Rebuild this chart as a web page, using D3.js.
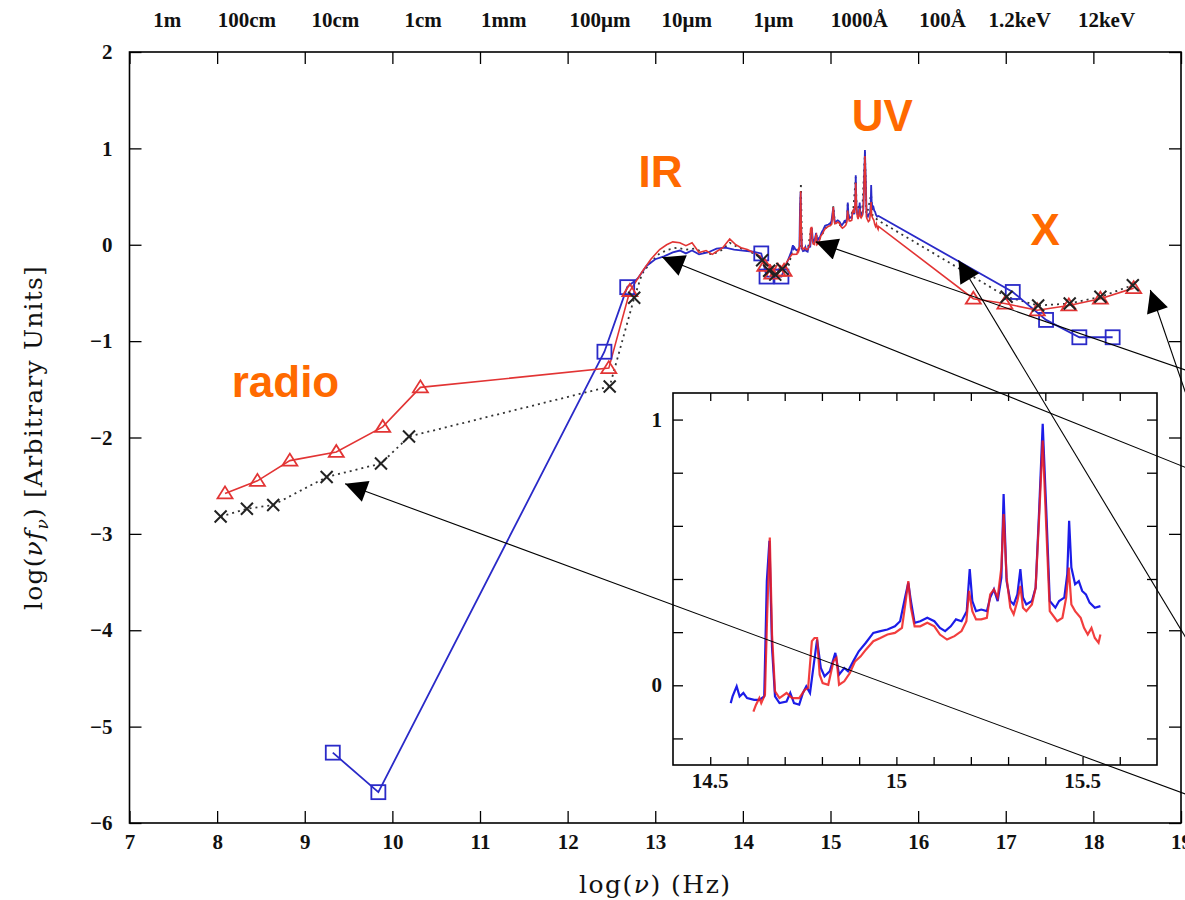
<!DOCTYPE html>
<html lang="en">
<head>
<meta charset="UTF-8" />
<title>SED</title>
<script src="https://cdn.jsdelivr.net/npm/d3@7/dist/d3.min.js"></script>
<style>
  body { margin: 0; background: #fff; }
  svg text { font-family: "Liberation Serif", "DejaVu Serif", serif; }
</style>
</head>
<body>
<script>
// ---- data: [log nu, log nu f_nu] ----
var xTicks = [7, 8, 9, 10, 11, 12, 13, 14, 15, 16, 17, 18, 19];
var yTicks = [-6, -5, -4, -3, -2, -1, 0, 1, 2];

var topLabels = ["1m", "100cm", "10cm", "1cm", "1mm", "100\u03bcm", "10\u03bcm", "1\u03bcm", "1000\u00c5", "100\u00c5", "1.2keV", "12keV"];
var topLabelPos = [7.43, 8.34, 9.35, 10.35, 11.27, 12.37, 13.36, 14.35, 15.33, 16.28, 17.16, 18.15];

// photometric points (markers)
var redPts = [[8.09,-2.58],[8.46,-2.45],[8.83,-2.24],[9.36,-2.15],[9.89,-1.89],[10.32,-1.48],[12.47,-1.28],[12.71,-0.48],
              [14.25,-0.22],[14.33,-0.30],[14.40,-0.27],[14.47,-0.27],
              [16.63,-0.56],[16.99,-0.61],[17.36,-0.68],[17.72,-0.63],[18.08,-0.56],[18.46,-0.45]];
var blackPts = [[8.04,-2.82],[8.34,-2.74],[8.64,-2.70],[9.25,-2.41],[9.87,-2.27],[10.19,-1.99],[12.48,-1.47],[12.76,-0.55],
                [14.22,-0.16],[14.30,-0.27],[14.37,-0.31],[14.45,-0.25],
                [17.01,-0.54],[17.37,-0.63],[17.73,-0.61],[18.08,-0.54],[18.45,-0.42]];
var bluePts = [[9.32,-5.27],[9.84,-5.68],[12.42,-1.11],[12.68,-0.44],[14.21,-0.09],[14.27,-0.33],[14.44,-0.33],
               [17.08,-0.49],[17.46,-0.78],[17.84,-0.96],[18.22,-0.96]];

// IR / near-IR continuum
var redIR = [[12.85,-0.28],[12.95,-0.15],[13.05,-0.05],[13.13,0.00],[13.20,0.03],[13.28,0.02],[13.35,-0.01],[13.42,0.02],
             [13.50,-0.08],[13.58,-0.06],[13.65,-0.10],[13.70,-0.07],[13.77,-0.03],[13.85,0.06],[13.92,0.00],[13.98,-0.03],
             [14.05,-0.05],[14.12,-0.08],[14.20,-0.12],[14.28,-0.30],[14.31,-0.20],[14.37,-0.25],[14.43,-0.22],[14.50,-0.18],[14.56,-0.10]];
var blackIR = [[12.85,-0.30],[12.95,-0.18],[13.05,-0.09],[13.15,-0.05],[13.25,-0.03],[13.35,-0.05],[13.45,-0.04],[13.55,-0.08],
               [13.65,-0.10],[13.75,-0.06],[13.85,0.02],[13.95,-0.03],[14.05,-0.06],[14.15,-0.10],[14.34,-0.33],[14.50,-0.30],[14.56,-0.08]];
var blueIR = [[12.80,-0.35],[12.90,-0.22],[13.00,-0.15],[13.10,-0.12],[13.20,-0.08],[13.28,-0.06],[13.35,-0.09],[13.42,-0.06],
              [13.50,-0.10],[13.60,-0.08],[13.70,-0.04],[13.80,-0.03],[13.90,-0.05],[14.00,-0.06],[14.10,-0.07]];

// optical/UV spectrum (also shown in the inset)
var blueSpec = [[14.555,-0.067],[14.560,-0.042],[14.571,-0.004],[14.579,-0.042],[14.589,-0.029],[14.599,-0.048],[14.618,-0.055],
  [14.632,-0.055],[14.645,-0.042],[14.652,0.392],[14.659,0.544],[14.666,0.141],[14.674,-0.042],[14.686,-0.067],[14.705,-0.061],
  [14.715,-0.029],[14.725,-0.067],[14.739,-0.073],[14.749,-0.029],[14.758,-0.004],[14.768,-0.029],[14.778,0.078],[14.787,0.172],
  [14.797,0.065],[14.807,0.034],[14.821,0.053],[14.836,0.122],[14.846,0.040],[14.860,0.065],[14.870,0.053],[14.884,0.090],
  [14.899,0.128],[14.918,0.160],[14.938,0.197],[14.957,0.204],[14.976,0.210],[14.996,0.222],[15.010,0.241],[15.025,0.342],
  [15.032,0.386],[15.039,0.317],[15.049,0.235],[15.064,0.241],[15.083,0.254],[15.102,0.241],[15.117,0.216],[15.131,0.204],
  [15.146,0.222],[15.160,0.248],[15.175,0.241],[15.189,0.279],[15.197,0.437],[15.204,0.317],[15.214,0.279],[15.228,0.285],
  [15.243,0.279],[15.252,0.330],[15.262,0.361],[15.272,0.317],[15.282,0.405],[15.288,0.720],[15.296,0.392],[15.306,0.317],
  [15.315,0.304],[15.325,0.342],[15.333,0.437],[15.340,0.330],[15.349,0.304],[15.364,0.317],[15.374,0.367],[15.383,0.644],
  [15.393,0.984],[15.403,0.644],[15.412,0.317],[15.427,0.292],[15.437,0.317],[15.451,0.330],[15.459,0.418],[15.464,0.619],
  [15.470,0.443],[15.480,0.380],[15.490,0.392],[15.499,0.355],[15.509,0.342],[15.519,0.311],[15.533,0.292],[15.548,0.298]];
var redSpec = [[14.616,-0.099],[14.623,-0.073],[14.632,-0.048],[14.637,-0.067],[14.647,-0.036],[14.653,0.267],[14.660,0.556],
  [14.666,0.191],[14.674,-0.023],[14.686,-0.048],[14.705,-0.029],[14.720,-0.048],[14.739,-0.048],[14.754,-0.017],[14.763,-0.010],
  [14.773,0.166],[14.780,0.178],[14.787,0.178],[14.794,0.040],[14.802,0.008],[14.817,0.002],[14.831,0.090],[14.839,0.103],
  [14.846,0.002],[14.860,0.015],[14.875,0.046],[14.889,0.090],[14.904,0.109],[14.918,0.134],[14.938,0.166],[14.957,0.178],
  [14.976,0.191],[14.996,0.197],[15.015,0.216],[15.025,0.317],[15.032,0.392],[15.039,0.292],[15.049,0.222],[15.064,0.222],
  [15.083,0.235],[15.102,0.222],[15.117,0.191],[15.136,0.172],[15.156,0.185],[15.175,0.204],[15.188,0.241],[15.195,0.355],
  [15.204,0.279],[15.214,0.248],[15.228,0.248],[15.243,0.254],[15.252,0.342],[15.262,0.361],[15.272,0.330],[15.282,0.443],
  [15.288,0.644],[15.296,0.405],[15.306,0.292],[15.315,0.267],[15.325,0.317],[15.333,0.374],[15.340,0.292],[15.349,0.279],
  [15.364,0.304],[15.374,0.367],[15.383,0.619],[15.393,0.921],[15.403,0.581],[15.412,0.279],[15.432,0.241],[15.446,0.254],
  [15.456,0.330],[15.463,0.443],[15.470,0.304],[15.480,0.279],[15.495,0.254],[15.504,0.216],[15.514,0.191],[15.524,0.216],
  [15.533,0.178],[15.543,0.160],[15.548,0.191]];
var blackSpec = [[14.60,-0.06],[14.65,-0.04],[14.662,0.64],[14.675,-0.04],[14.74,-0.05],[14.78,0.17],[14.80,0.02],[14.84,0.10],
  [14.85,0.02],[14.95,0.18],[15.02,0.22],[15.032,0.40],[15.05,0.22],[15.12,0.20],[15.19,0.25],[15.197,0.42],[15.21,0.26],
  [15.26,0.36],[15.288,0.70],[15.30,0.33],[15.333,0.42],[15.36,0.30],[15.393,0.96],[15.41,0.29],[15.463,0.52],[15.48,0.30],[15.55,0.25]];

// annotation arrows: tip and tail, in data units
var arrowTips  = [[9.46,-2.48],[13.08,-0.13],[14.83,0.03],[16.46,-0.16],[18.65,-0.47]];
var arrowTails = [[19.05,-5.70],[19.05,-2.31],[19.05,-1.30],[19.05,-4.07],[19.05,-1.53]];

var bandNames = ["radio", "IR", "UV", "X"];
var bandPos = [[8.78,-1.58],[13.06,0.60],[15.59,1.18],[17.45,0.0]];

// inset ticks
var insetXLabels = [14.5, 15, 15.5];
var insetYLabels = [0, 1];

// ---- layout ----
var W = 1185, H = 900;
var svg = d3.select("body").append("svg").attr("width", W).attr("height", H);

var x = d3.scaleLinear().domain([7, 19]).range([129.5, 1181]);
var y = d3.scaleLinear().domain([-6, 2]).range([823, 52]);

var blue = "#2a2ac8", red = "#e23434", orange = "#ff6a00";
var tickFont = 21;

svg.append("defs").append("marker")
  .attr("id", "head")
  .attr("viewBox", "0 0 10 10")
  .attr("refX", 10).attr("refY", 5)
  .attr("markerWidth", 32).attr("markerHeight", 22)
  .attr("markerUnits", "userSpaceOnUse")
  .attr("orient", "auto")
  .append("path").attr("d", "M0,0 L10,5 L0,10 Z").attr("fill", "#000");

// axes
function axisStyle(g) {
  g.select(".domain").remove();
  g.selectAll("line").attr("stroke", "#000").attr("stroke-width", 1.3);
  g.selectAll("text").attr("font-size", tickFont).attr("font-weight", "bold").attr("fill", "#111")
    .style("font-family", "'Liberation Serif', serif");
}

svg.append("g").attr("transform", "translate(0," + y(-6) + ")")
  .call(d3.axisBottom(x).tickValues(xTicks).tickSize(-12).tickPadding(11).tickFormat(d3.format("d")))
  .call(axisStyle);
svg.append("g").attr("transform", "translate(0," + y(2) + ")")
  .call(d3.axisTop(x).tickValues(xTicks).tickSize(-12).tickFormat(""))
  .call(axisStyle);
svg.append("g").attr("transform", "translate(" + x(7) + ",0)")
  .call(d3.axisLeft(y).tickValues(yTicks).tickSize(-12).tickPadding(17).tickFormat(d3.format("d")))
  .call(axisStyle);
svg.append("g").attr("transform", "translate(" + x(19) + ",0)")
  .call(d3.axisRight(y).tickValues(yTicks).tickSize(-12).tickFormat(""))
  .call(axisStyle);

svg.append("rect")
  .attr("x", x(7)).attr("y", y(2))
  .attr("width", x(19) - x(7)).attr("height", y(-6) - y(2))
  .attr("fill", "none").attr("stroke", "#000").attr("stroke-width", 1.6);

// top wavelength labels
svg.selectAll(".toplab").data(topLabels).enter().append("text")
  .attr("class", "toplab")
  .attr("x", function(d, i) { return x(topLabelPos[i]); })
  .attr("y", 27)
  .attr("text-anchor", "middle")
  .attr("font-size", tickFont).attr("font-weight", "bold").attr("fill", "#111")
  .text(function(d) { return d; });

// axis titles
svg.append("text")
  .attr("x", x(13)).attr("y", 893)
  .attr("text-anchor", "middle").attr("font-size", 25).attr("fill", "#111")
  .attr("letter-spacing", 1.5)
  .style("font-family", "'DejaVu Serif', serif")
  .html("log(<tspan font-style='italic'>\u03bd</tspan>) (Hz)");

var yl = svg.append("text")
  .attr("transform", "translate(42," + y(-2) + ") rotate(-90)")
  .attr("text-anchor", "middle").attr("font-size", 25).attr("fill", "#111")
  .attr("letter-spacing", 1.2)
  .style("font-family", "'DejaVu Serif', serif");
yl.append("tspan").text("log(");
yl.append("tspan").attr("font-style", "italic").text("\u03bdf");
yl.append("tspan").attr("font-style", "italic").attr("font-size", 17).attr("dy", 6).text("\u03bd");
yl.append("tspan").attr("dy", -6).text(") [Arbitrary Units]");

// ---- series ----
var line = d3.line().x(function(d) { return x(d[0]); }).y(function(d) { return y(d[1]); });
function byX(a, b) { return a[0] - b[0]; }

var blueLine = bluePts.concat(blueIR, blueSpec).sort(byX);
var redLine = redPts.concat(redIR, redSpec).sort(byX);
var blackLine = blackPts.concat(blackIR, blackSpec).sort(byX);

svg.append("path").datum(blackLine).attr("d", line)
  .attr("fill", "none").attr("stroke", "#333").attr("stroke-width", 1.8).attr("stroke-dasharray", "2,4");
svg.append("path").datum(blueLine).attr("d", line)
  .attr("fill", "none").attr("stroke", blue).attr("stroke-width", 1.8);
svg.append("path").datum(redLine).attr("d", line)
  .attr("fill", "none").attr("stroke", red).attr("stroke-width", 1.6);

// markers
svg.selectAll(".sq").data(bluePts).enter().append("rect")
  .attr("x", function(d) { return x(d[0]) - 7; })
  .attr("y", function(d) { return y(d[1]) - 7; })
  .attr("width", 14).attr("height", 14)
  .attr("fill", "none").attr("stroke", blue).attr("stroke-width", 1.8);

svg.selectAll(".tri").data(redPts).enter().append("path")
  .attr("transform", function(d) { return "translate(" + x(d[0]) + "," + y(d[1]) + ")"; })
  .attr("d", "M0,-7 L7.5,5 L-7.5,5 Z")
  .attr("fill", "none").attr("stroke", red).attr("stroke-width", 1.8);

svg.selectAll(".cross").data(blackPts).enter().append("path")
  .attr("transform", function(d) { return "translate(" + x(d[0]) + "," + y(d[1]) + ")"; })
  .attr("d", "M-6,-6 L6,6 M-6,6 L6,-6")
  .attr("fill", "none").attr("stroke", "#222").attr("stroke-width", 2);

// band labels
svg.selectAll(".band").data(bandNames).enter().append("text")
  .attr("x", function(d, i) { return x(bandPos[i][0]); })
  .attr("y", function(d, i) { return y(bandPos[i][1]); })
  .attr("text-anchor", "middle")
  .attr("font-size", 44).attr("font-weight", "bold").attr("fill", orange)
  .style("font-family", "'Liberation Sans', Arial, sans-serif")
  .text(function(d) { return d; });

// ---- inset ----
var ix = d3.scaleLinear().domain([14.4, 15.7]).range([673, 1157]);
var iy = d3.scaleLinear().domain([-0.3, 1.1]).range([765, 393]);

var inset = svg.append("g");
inset.append("rect")
  .attr("x", ix(14.4)).attr("y", iy(1.1))
  .attr("width", ix(15.7) - ix(14.4)).attr("height", iy(-0.3) - iy(1.1))
  .attr("fill", "#fff");

var ixTicks = d3.range(14.5, 15.65, 0.1);
var iyTicks = [-0.2, 0, 0.2, 0.4, 0.6, 0.8, 1.0];

inset.append("g").attr("transform", "translate(0," + iy(-0.3) + ")")
  .call(d3.axisBottom(ix).tickValues(ixTicks).tickSize(-8).tickFormat(""))
  .call(axisStyle);
inset.append("g").attr("transform", "translate(0," + iy(1.1) + ")")
  .call(d3.axisTop(ix).tickValues(ixTicks).tickSize(-8).tickFormat(""))
  .call(axisStyle);
inset.append("g").attr("transform", "translate(" + ix(14.4) + ",0)")
  .call(d3.axisLeft(iy).tickValues(iyTicks).tickSize(-10).tickFormat(""))
  .call(axisStyle);
inset.append("g").attr("transform", "translate(" + ix(15.7) + ",0)")
  .call(d3.axisRight(iy).tickValues(iyTicks).tickSize(-10).tickFormat(""))
  .call(axisStyle);

inset.selectAll(".ixl").data(insetXLabels).enter().append("text")
  .attr("x", function(d) { return ix(d); }).attr("y", iy(-0.3) + 23)
  .attr("text-anchor", "middle").attr("font-size", tickFont).attr("font-weight", "bold").attr("fill", "#111")
  .text(function(d) { return d; });
inset.selectAll(".iyl").data(insetYLabels).enter().append("text")
  .attr("x", ix(14.4) - 11).attr("y", function(d) { return iy(d) + 7; })
  .attr("text-anchor", "end").attr("font-size", tickFont).attr("font-weight", "bold").attr("fill", "#111")
  .text(function(d) { return d; });

var iline = d3.line().x(function(d) { return ix(d[0]); }).y(function(d) { return iy(d[1]); });
inset.append("path").datum(blueSpec).attr("d", iline)
  .attr("fill", "none").attr("stroke", "#1c1ce8").attr("stroke-width", 2.2);
inset.append("path").datum(redSpec).attr("d", iline)
  .attr("fill", "none").attr("stroke", "#f01c1c").attr("stroke-width", 2.2).attr("stroke-opacity", 0.85);

inset.append("rect")
  .attr("x", ix(14.4)).attr("y", iy(1.1))
  .attr("width", ix(15.7) - ix(14.4)).attr("height", iy(-0.3) - iy(1.1))
  .attr("fill", "none").attr("stroke", "#000").attr("stroke-width", 1.6);

// ---- arrows ----
svg.selectAll(".arrow").data(arrowTips).enter().append("line")
  .attr("x1", function(d, i) { return x(arrowTails[i][0]); })
  .attr("y1", function(d, i) { return y(arrowTails[i][1]); })
  .attr("x2", function(d) { return x(d[0]); })
  .attr("y2", function(d) { return y(d[1]); })
  .attr("stroke", "#000").attr("stroke-width", 1.1)
  .attr("marker-end", "url(#head)");
</script>
</body>
</html>
